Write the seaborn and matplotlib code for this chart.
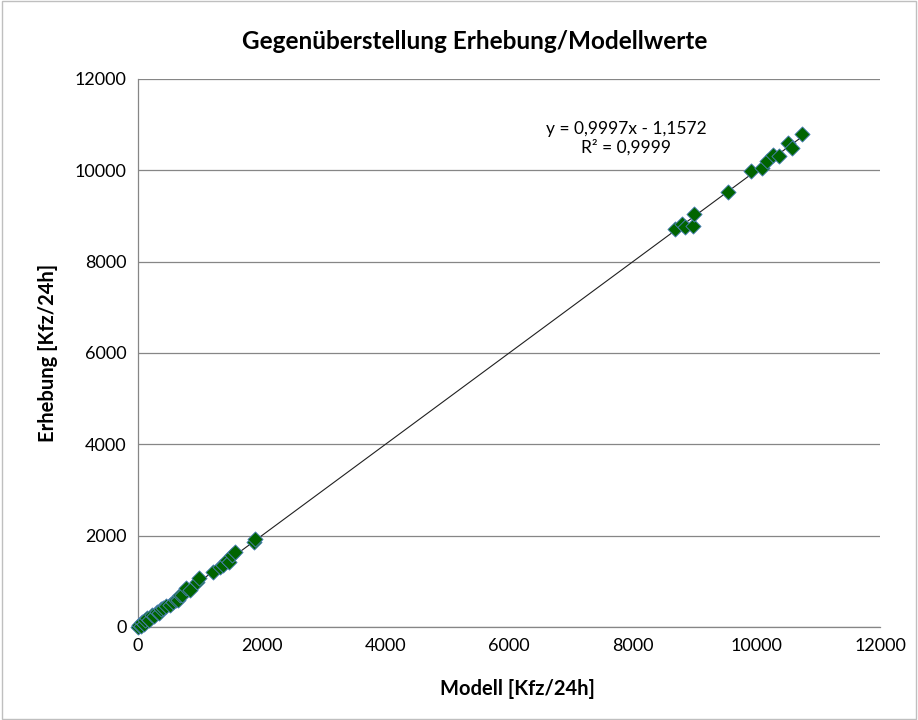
import matplotlib.pyplot as plt
import seaborn as sns
import numpy as np
import pandas as pd

# Modell vs. Erhebung [Kfz/24h]
modell = [0, 20, 45, 60, 90, 120, 140, 180, 221, 260, 302, 340, 380, 410,
          460, 518, 571, 610, 652, 679, 720, 776, 841, 949, 991, 1218,
          1326, 1380, 1434, 1480, 1515, 1569, 1871, 1892,
          8685, 8793, 8847, 8981, 8998, 9547, 9910, 10087, 10168, 10270,
          10367, 10513, 10572, 10734]
erhebung = [0, 35, 30, 116, 70, 150, 190, 160, 263, 230, 335, 310, 400, 409,
            450, 482, 554, 600, 591, 701, 690, 847, 810, 992, 1066, 1211,
            1320, 1358, 1467, 1420, 1577, 1649, 1868, 1927,
            8715, 8824, 8752, 8780, 9037, 9519, 9991, 10042, 10210, 10335,
            10313, 10604, 10482, 10795]

slope = 0.9997
intercept = -1.1572
r2 = 0.9999

df = pd.DataFrame({'Modell': modell, 'Erhebung': erhebung})

sns.set_style('white')
plt.rcParams['font.family'] = ['Lato', 'DejaVu Sans']
plt.rcParams['text.color'] = 'black'
plt.rcParams['axes.labelcolor'] = 'black'

fig = plt.figure(figsize=(9.18, 7.2), dpi=100)
ax = fig.add_axes([0.1503, 0.1292, 0.8083, 0.7611])

# trendline
xs = np.array([0, max(modell)])
ax.plot(xs, slope * xs + intercept, color='#202020', lw=0.8, zorder=2)

sns.scatterplot(data=df, x='Modell', y='Erhebung', marker='D', s=60,
                color='#006400', edgecolor='#4F81BD', linewidth=0.6,
                ax=ax, zorder=3, clip_on=False)

ax.set_xlim(0, 12000)
ax.set_ylim(0, 12000)
ax.set_xticks(np.arange(0, 12001, 2000))
ax.set_yticks(np.arange(0, 12001, 2000))
ax.yaxis.grid(True, color='#868686', lw=0.9)
ax.xaxis.grid(False)
for side in ['top', 'right']:
    ax.spines[side].set_visible(False)
for side in ['left', 'bottom']:
    ax.spines[side].set_color('#868686')
    ax.spines[side].set_linewidth(0.9)
ax.tick_params(axis='both', which='major', length=5, width=0.9,
               color='#868686', direction='out', labelsize=13,
               labelcolor='#000000', pad=3)
ax.set_axisbelow(True)

ax.set_xlabel('Modell [Kfz/24h]', fontsize=14.5, fontweight='bold')
ax.xaxis.set_label_coords(0.511, -0.095)
ax.set_ylabel('Erhebung [Kfz/24h]', fontsize=14.5, fontweight='bold', labelpad=12)
fig.text(0.517, 0.942, 'Gegenüberstellung Erhebung/Modellwerte', fontsize=17.5,
         fontweight='bold', ha='center', va='center')

ax.text(7893, 10700, f'y = {slope:.4f}x - {abs(intercept):.4f}\nR² = {r2:.4f}'.replace('.', ','),
        ha='center', va='center', fontsize=12.5, linespacing=1.2)

# chart area border
fig.patches.append(plt.Rectangle((0.002, 0.002), 0.996, 0.996,
                                 transform=fig.transFigure, fill=False,
                                 edgecolor='#BFBFBF', lw=1))

fig.savefig('out.png', dpi=100)
